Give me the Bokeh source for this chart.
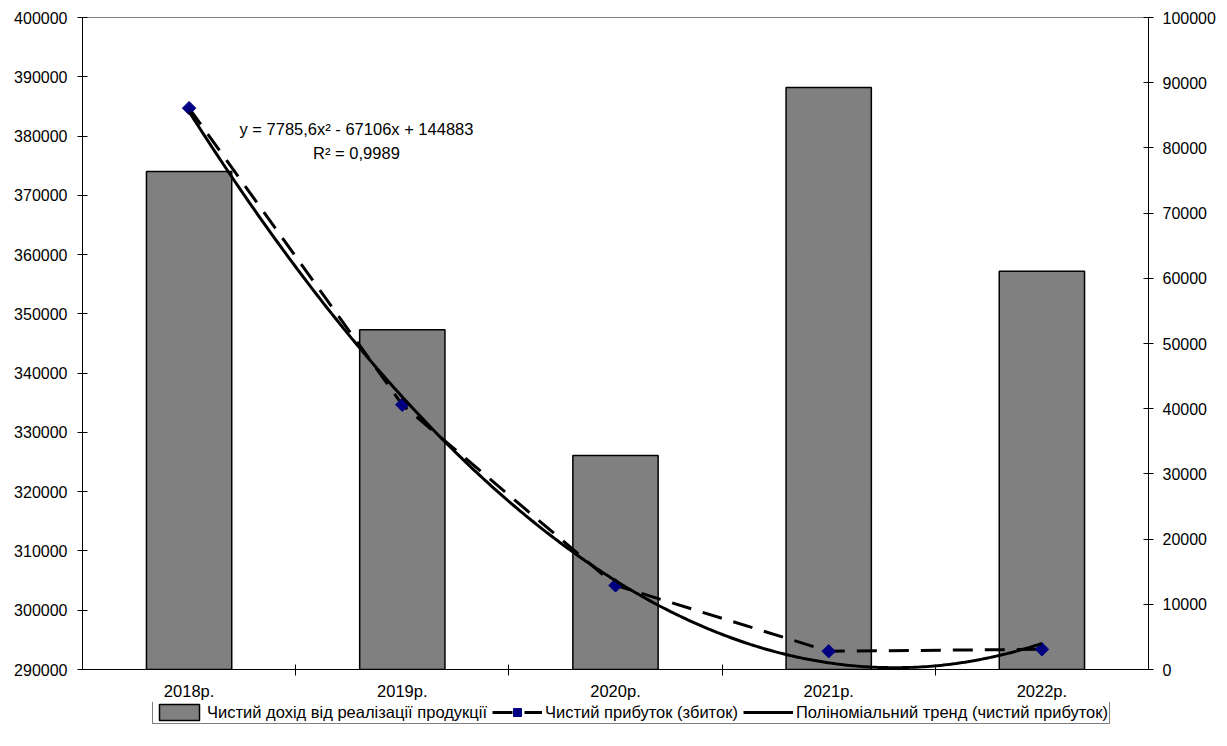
import numpy as np
from bokeh.plotting import figure
from bokeh.layouts import column
from bokeh.models import (Range1d, LinearAxis, FixedTicker, NumeralTickFormatter,
                          Label, Legend, LegendItem, ColumnDataSource)
from bokeh.embed import file_html
from bokeh.resources import INLINE

# ---- data ----
years = ["2018р.", "2019р.", "2020р.", "2021р.", "2022р."]
revenue = [374000, 347300, 326100, 388200, 357200]   # left axis
profit = [86100, 40600, 12900, 2800, 3100]           # right axis
trend_coef = [7785.6, -67106, 144883]                # y = a x^2 + b x + c
eq_text = "y = 7785,6x² - 67106x + 144883"
r2_text = "R² = 0,9989"
series_names = ["Чистий дохід від реалізації продукції",
                "Чистий прибуток (збиток)",
                "Поліноміальний тренд (чистий прибуток)"]
left_ticks = list(range(290000, 400001, 10000))
right_ticks = list(range(0, 100001, 10000))

FONT = "Liberation Sans"
BAR_STYLE = dict(fill_color="#808080", line_color="black", line_width=1.5)
DASH_STYLE = dict(line_color="black", line_width=3, line_dash="20 12")
MARK_STYLE = dict(marker="square", angle=np.pi / 4, fill_color="#000080", line_color="#000080")
TREND_STYLE = dict(line_color="black", line_width=3)

xs = list(range(1, len(years) + 1))
tx = np.linspace(1, len(years), 300)
ty = np.polyval(trend_coef, tx)

p = figure(frame_width=1066, frame_height=652,
           x_range=Range1d(0.5, len(years) + 0.5),
           y_range=Range1d(left_ticks[0], left_ticks[-1]),
           output_backend="svg", toolbar_location=None,
           min_border_left=82, min_border_right=79,
           min_border_top=17, min_border_bottom=29,
           x_axis_location="below", y_axis_location="left")
p.extra_y_ranges = {"right": Range1d(right_ticks[0], right_ticks[-1])}
p.xgrid.visible = False
p.ygrid.visible = False
p.outline_line_color = "#808080"
p.outline_line_width = 1
p.background_fill_color = "white"

src_bar = ColumnDataSource(dict(x=xs, top=revenue))
p.vbar(x="x", top="top", bottom=left_ticks[0], width=0.4, source=src_bar, **BAR_STYLE)

src_line = ColumnDataSource(dict(x=xs, y=profit))
p.line(x="x", y="y", source=src_line, y_range_name="right", **DASH_STYLE)
p.scatter(x="x", y="y", source=src_line, y_range_name="right", size=9.5, **MARK_STYLE)
p.line(x=tx, y=ty, y_range_name="right", **TREND_STYLE)

# axes
xa = p.xaxis[0]
xa.ticker = FixedTicker(ticks=xs, minor_ticks=[i + 0.5 for i in xs[:-1]])
xa.major_label_overrides = {i: y for i, y in zip(xs, years)}
xa.major_tick_out = 0
xa.major_tick_in = 0
xa.minor_tick_out = 6
xa.minor_tick_in = 5
xa.major_label_standoff = 6
xa.major_label_text_font = FONT
xa.major_label_text_font_size = "16.5px"
xa.major_label_text_color = "black"
xa.axis_line_color = "black"
xa.minor_tick_line_color = "black"

ya = p.yaxis[0]
ya.ticker = FixedTicker(ticks=left_ticks)
ya.formatter = NumeralTickFormatter(format="0")

yr = LinearAxis(y_range_name="right", ticker=FixedTicker(ticks=right_ticks),
                formatter=NumeralTickFormatter(format="0"))
p.add_layout(yr, "right")

for ax, so in ((ya, 10), (yr, 9)):
    ax.major_tick_out = 5
    ax.major_tick_in = 5
    ax.minor_tick_out = 0
    ax.minor_tick_in = 0
    ax.major_label_standoff = so
    ax.major_label_text_font = FONT
    ax.major_label_text_font_size = "16px"
    ax.major_label_text_color = "black"
    ax.axis_line_color = "black"
    ax.major_tick_line_color = "black"

# trend equation
p.add_layout(Label(x=1.785, y=82900, y_range_name="right", text=eq_text,
                   text_align="center", text_baseline="middle",
                   text_font=FONT, text_font_size="16.5px", text_color="black"))
p.add_layout(Label(x=1.785, y=79200, y_range_name="right", text=r2_text,
                   text_align="center", text_baseline="middle",
                   text_font=FONT, text_font_size="16.5px", text_color="black"))

# ---- legend strip (separate figure below the chart; its frame aligns with the chart's) ----
lg = figure(width=1227, height=26, x_range=Range1d(0, 1), y_range=Range1d(0, 1),
            x_axis_type=None, y_axis_type=None, output_backend="svg",
            toolbar_location=None, min_border=0)
lg.outline_line_color = None
# off-screen proxy glyphs that only carry the legend styling
r_bar = lg.vbar(x=[-10], top=[-10], bottom=[-11], width=0.4, **BAR_STYLE)
r_dash = lg.line(x=[-10, -11], y=[-10, -11], **DASH_STYLE)
r_mark = lg.scatter(x=[-10], y=[-10], size=9.5, **MARK_STYLE)
r_trend = lg.line(x=[-10, -11], y=[-10, -11], **TREND_STYLE)

legend = Legend(items=[
    LegendItem(label=series_names[0], renderers=[r_bar]),
    LegendItem(label=series_names[1], renderers=[r_dash, r_mark]),
    LegendItem(label=series_names[2], renderers=[r_trend]),
], location=(70, 4), orientation="horizontal")
legend.border_line_color = "black"
legend.border_line_width = 1
legend.background_fill_color = "white"
legend.background_fill_alpha = 1
legend.label_text_font = FONT
legend.label_text_font_size = "16.5px"
legend.label_text_color = "black"
legend.label_text_baseline = "middle"
legend.glyph_width = 50
legend.glyph_height = 20
legend.label_height = 18
legend.label_standoff = 3
legend.spacing = 5
legend.padding = 1
legend.margin = 0
lg.add_layout(legend, "center")

layout = column(p, lg, spacing=0)
open("out.html", "w").write(file_html(layout, INLINE))
